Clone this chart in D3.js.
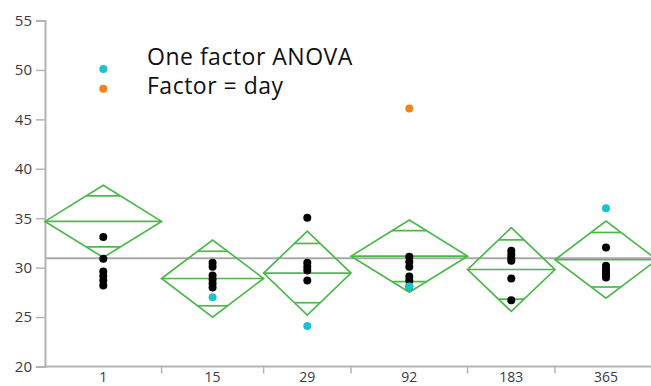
<!DOCTYPE html>
<html>
<head>
<meta charset="utf-8">
<script src="https://cdn.jsdelivr.net/npm/d3@7/dist/d3.min.js"></script>
<style>
  html, body { margin: 0; padding: 0; background: #fff; }
  svg { display: block; }
  text { font-family: "Open Sans", "Noto Sans", sans-serif; }
</style>
</head>
<body>
<svg id="chart" width="651" height="386"></svg>
<script>
// Groups (day) and number of observations per group
const days = ["1", "15", "29", "92", "183", "365"];
const counts = [8, 7, 6, 8, 6, 7];

// Observations per group, split by marker colour
const plainValues = [
  [33.1, 30.9, 29.6, 29.15, 28.7, 28.2],
  [30.5, 30.1, 29.2, 28.8, 28.4, 28.0],
  [35.05, 30.5, 30.1, 29.7, 28.7],
  [31.1, 30.6, 30.1, 29.1, 28.7, 28.1],
  [31.7, 31.3, 31.0, 30.7, 28.9, 26.7],
  [32.05, 30.2, 29.9, 29.6, 29.3, 29.0]
];
const cyanValues = [[50.1], [27.0], [24.1], [28.1], [], [36.0]];
const orangeValues = [[48.1], [], [], [46.1], [], []];

// Group means and 95% confidence half-widths (means diamonds)
const groupMeans = [34.68, 28.9, 29.45, 31.16, 29.81, 30.8];
const ciHalf = [3.65, 3.9, 4.24, 3.65, 4.24, 3.9];
const grandMean = 30.95;

const yTicks = [20, 25, 30, 35, 40, 45, 50, 55];
const noteLines = ["One factor ANOVA", "Factor = day"];

const svg = d3.select("#chart");
const plotLeft = 45, plotRight = 657, plotTop = 20.5, plotBottom = 366.5;

const total = d3.sum(counts);
const cum = [0];
counts.forEach((c, i) => cum.push(cum[i] + c));

const x = d3.scaleLinear().domain([0, total]).range([plotLeft, plotRight]);
const y = d3.scaleLinear().domain([20, 55]).range([plotBottom, plotTop]);

const groups = days.map((d, i) => ({
  day: d,
  x0: x(cum[i]),
  x1: x(cum[i + 1]),
  xc: x((cum[i] + cum[i + 1]) / 2),
  mean: groupMeans[i],
  half: ciHalf[i]
}));

const axisColor = "#b4b4b4";
const labelColor = "#3a3a44";
const green = "#4cb84c";

// Grand mean reference line
svg.append("line")
  .attr("x1", plotLeft).attr("x2", 651)
  .attr("y1", y(grandMean)).attr("y2", y(grandMean))
  .attr("stroke", "#a9a9a9").attr("stroke-width", 2.2);

// Y axis
const yAxis = d3.axisLeft(y).tickValues(yTicks).tickSize(9).tickPadding(4);
const gy = svg.append("g").attr("transform", `translate(${plotLeft},0)`).call(yAxis);
gy.select(".domain").attr("stroke", axisColor).attr("stroke-width", 2);
gy.selectAll(".tick line").attr("stroke", axisColor).attr("stroke-width", 1.5);
gy.selectAll(".tick text")
  .attr("fill", labelColor).style("font-size", "15px")
  .style("font-family", "'Open Sans', 'Noto Sans', sans-serif");

// X axis: baseline, group boundary ticks and day labels
svg.append("line")
  .attr("x1", plotLeft - 1).attr("x2", 651)
  .attr("y1", plotBottom).attr("y2", plotBottom)
  .attr("stroke", axisColor).attr("stroke-width", 2);

svg.append("g").selectAll("line")
  .data(cum.slice(1, -1))
  .join("line")
  .attr("x1", d => x(d)).attr("x2", d => x(d))
  .attr("y1", plotBottom).attr("y2", plotBottom + 7)
  .attr("stroke", axisColor).attr("stroke-width", 1.5);

svg.append("g").selectAll("text")
  .data(groups)
  .join("text")
  .attr("x", d => d.xc).attr("y", 382)
  .attr("text-anchor", "middle")
  .attr("fill", labelColor)
  .style("font-size", "14px")
  .text(d => d.day);

// Means diamonds with overlap marks
const dg = svg.append("g").attr("fill", "none").attr("stroke", green).attr("stroke-width", 1.7);
groups.forEach(g => {
  const w = g.x1 - g.x0;
  dg.append("path")
    .attr("d", `M${g.x0},${y(g.mean)} L${g.xc},${y(g.mean + g.half)} L${g.x1},${y(g.mean)} L${g.xc},${y(g.mean - g.half)} Z`);
  dg.append("line")
    .attr("x1", g.x0).attr("x2", g.x1)
    .attr("y1", y(g.mean)).attr("y2", y(g.mean));
  const off = g.half / Math.SQRT2;
  const hw = (w / 2) * (1 - off / g.half);
  [g.mean + off, g.mean - off].forEach(v => {
    dg.append("line")
      .attr("x1", g.xc - hw).attr("x2", g.xc + hw)
      .attr("y1", y(v)).attr("y2", y(v));
  });
});

// Observations
function drawPoints(values, color) {
  const pts = [];
  values.forEach((arr, i) => arr.forEach(v => pts.push({ x: groups[i].xc, v })));
  svg.append("g").selectAll("circle")
    .data(pts)
    .join("circle")
    .attr("cx", d => d.x).attr("cy", d => y(d.v))
    .attr("r", 4)
    .attr("fill", color);
}
drawPoints(plainValues, "#000000");
drawPoints(cyanValues, "#1bc3cf");
drawPoints(orangeValues, "#f0821e");

// Annotation text
svg.append("g").selectAll("text")
  .data(noteLines)
  .join("text")
  .attr("x", 147).attr("y", (d, i) => 65 + i * 29)
  .attr("fill", "#111")
  .style("font-size", "23px")
  .style("letter-spacing", "0.5px")
  .style("font-family", "'Open Sans', 'Noto Sans', sans-serif")
  .text(d => d);
</script>
</body>
</html>
